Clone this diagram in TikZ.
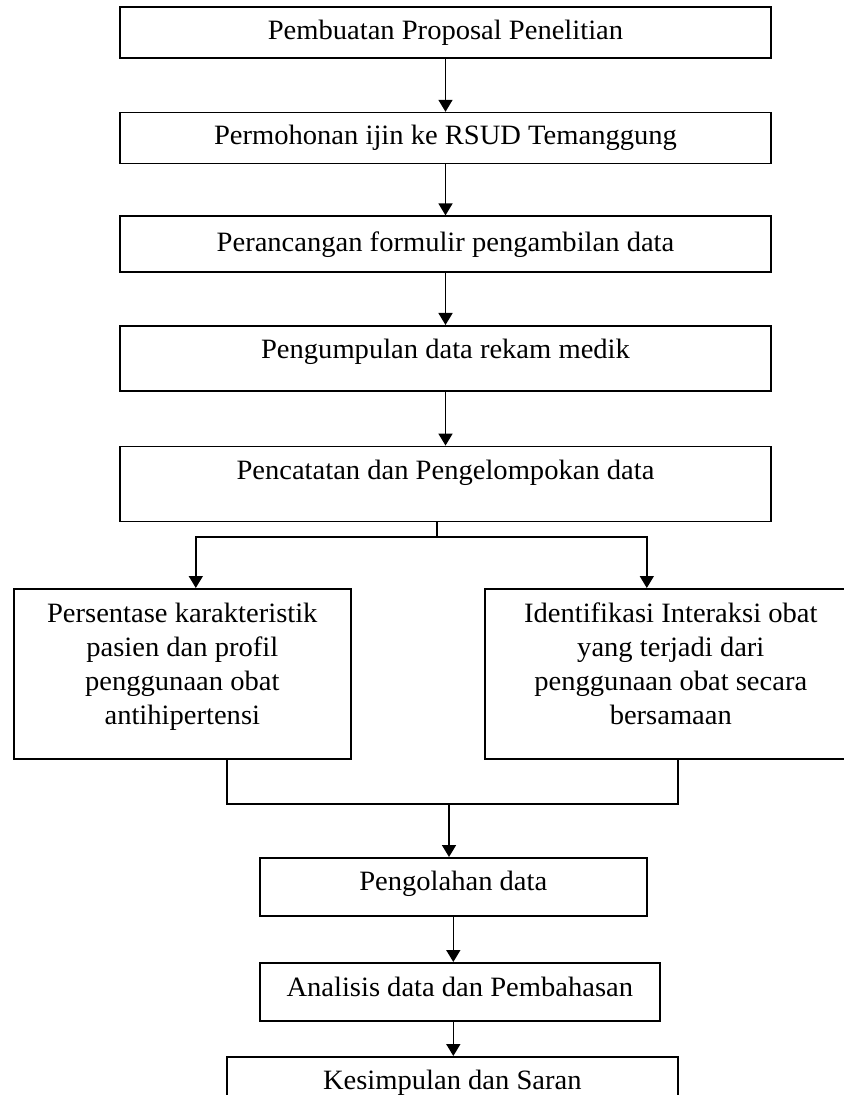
\documentclass[tikz,border=0pt]{standalone}
\usepackage{fontspec}
\setmainfont{Liberation Serif}[FakeStretch=1.02]
\usetikzlibrary{arrows.meta, positioning}
\tikzset{
  stage/.style={
    rectangle, draw, line width=0.8pt, minimum width=#1,
    inner sep=0pt, align=center, font=\fontsize{14}{17}\selectfont
  },
  wide stage/.style={stage=325.5pt},
  arrow/.style={-{Triangle[width=7pt,length=6pt]}, line width=0.8pt},
  link/.style={line width=0.8pt},
}

\begin{document}
\begin{tikzpicture}[x=0.5pt, y=-0.5pt]
  \useasboundingbox (0,0) rectangle (843,1095);

  % main column
  \node[wide stage, minimum height=25.5pt] (prop) at (445.5,32.5)
    {Pembuatan Proposal Penelitian};
  \node[wide stage, minimum height=25.5pt, below=26.5pt of prop] (ijin)
    {Permohonan ijin ke RSUD Temanggung};
  \node[wide stage, minimum height=28pt, below=25.5pt of ijin] (form)
    {Perancangan formulir pengambilan data};
  \node[wide stage, minimum height=32.5pt, text depth=9.5pt, below=26pt of form] (rekam)
    {Pengumpulan data rekam medik};
  \node[wide stage, minimum height=37.5pt, text depth=14.5pt, below=27pt of rekam] (catat)
    {Pencatatan dan Pengelompokan data};

  % two branches
  \node[stage=168.5pt, minimum height=85pt, text depth=10pt, anchor=north west] (persen) at (13,588)
    {Persentase karakteristik\\pasien dan profil\\penggunaan obat\\antihipertensi};
  \node[stage=186pt, minimum height=85pt, text depth=10pt, anchor=north west] (ident) at (484,588)
    {Identifikasi Interaksi obat\\yang terjadi dari\\penggunaan obat secara\\bersamaan};

  % lower column
  \node[stage=193.5pt, minimum height=29pt, text depth=6pt, anchor=north west] (olah) at (259,857)
    {Pengolahan data};
  \node[stage=200pt, minimum height=29pt, text depth=5pt, anchor=north west] (analisis) at (259,962)
    {Analisis data dan Pembahasan};
  \node[stage=225.5pt, minimum height=30pt, text depth=7pt, anchor=north west] (simpul) at (226,1056)
    {Kesimpulan dan Saran};

  \draw[arrow] (prop.south) -- (ijin.north);
  \draw[arrow] (ijin.south) -- (form.north);
  \draw[arrow] (form.south) -- (rekam.north);
  \draw[arrow] (rekam.south) -- (catat.north);

  \coordinate (split) at (437,537);
  \draw[link] ([xshift=-4.25pt]catat.south) -- (split);
  \draw[arrow] (split) -| ([xshift=6.75pt]persen.north);
  \draw[arrow] (split) -| ([xshift=-12pt]ident.north);

  \coordinate (join) at (449,804);
  \draw[link] ([xshift=22.25pt]persen.south) |- (join) -| ([xshift=3.5pt]ident.south);
  \draw[arrow] (join) -- (join |- olah.north);
  \draw[arrow] (olah.south) -- (olah.south |- analisis.north);
  \draw[arrow] (olah.south |- analisis.south) -- (olah.south |- simpul.north);
\end{tikzpicture}
\end{document}
